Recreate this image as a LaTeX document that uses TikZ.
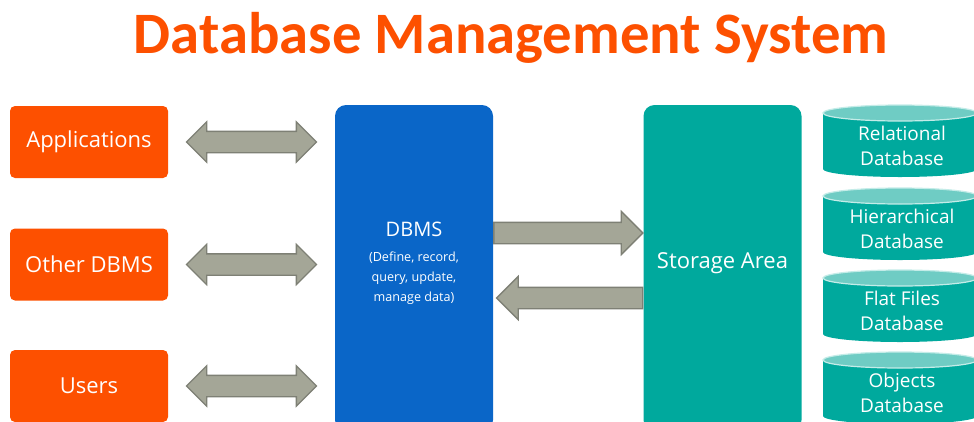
\documentclass[tikz,border=0pt]{standalone}
\usepackage{fontspec}
\setmainfont{Open Sans}
\newfontfamily\titlefont{Carlito}
\usetikzlibrary{shapes.arrows,calc}
\definecolor{orng}{HTML}{FD5000}
\definecolor{dbblue}{HTML}{0A66C8}
\definecolor{tealc}{HTML}{00A99D}
\definecolor{tealtop}{HTML}{6FCCC4}
\definecolor{tealrim}{HTML}{C4ECE8}
\definecolor{arrfill}{HTML}{A4A697}
\definecolor{arrline}{HTML}{7E8075}
\tikzset{
  srcbox/.style={fill=orng, rounded corners=5pt, minimum width=158pt, minimum height=72pt, inner sep=0pt, text=white, font=\fontsize{22}{26}\selectfont},
  tallbox/.style={rounded corners=11pt, minimum width=158pt, minimum height=326pt, inner sep=0pt},
  dblarr/.style={shape=double arrow, draw=arrline, fill=arrfill, line width=1.3pt, minimum height=130pt, inner xsep=0pt, inner ysep=10pt, double arrow head extend=9.5pt},
  sarr/.style={shape=single arrow, draw=arrline, fill=arrfill, line width=1.3pt, inner xsep=0pt, inner ysep=10pt, single arrow head extend=11pt},
  cyltext/.style={text=white, align=center, font=\fontsize{19}{25}\selectfont, inner sep=0pt},
}
\begin{document}
\begin{tikzpicture}[x=1pt,y=-1pt]
\clip (0,0) rectangle (974,421);
\fill[white] (0,0) rectangle (974,421);
\node[text=orng, font=\titlefont\fontsize{58.7}{70}\selectfont\bfseries, anchor=base, inner sep=0pt] (title) at (511,53) {Database Management System};
% source boxes
\node[srcbox] (app) at (89,142) {Applications};
\node[srcbox] (odb) at (89,264.5) {Other DBMS};
\node[srcbox] (usr) at (89,386) {Users};
% DBMS and storage
\node[tallbox, fill=dbblue] (dbms) at (414,268) {};
\node[text=white, align=center, inner sep=0pt, font=\fontsize{12.6}{20}\selectfont] (dbmstxt) at (414,263) {{\fontsize{20}{24}\selectfont DBMS}\\[5pt](Define, record,\\query, update,\\manage data)};
\node[tallbox, fill=tealc] (stor) at (722.5,268) {};
\node[text=white, inner sep=0pt, font=\fontsize{22}{26}\selectfont] (stortxt) at (722.5,263) {Storage Area};
% double arrows
\path (app.east) -- (dbms.west |- app.east) node[midway, dblarr] (a1) {};
\path (odb.east) -- (dbms.west |- odb.east) node[midway, dblarr] (a2) {};
\path (usr.east) -- (dbms.west |- usr.east) node[midway, dblarr] (a3) {};
% arrows between DBMS and storage
\coordinate (ry) at (0,233);
\coordinate (ly) at (0,298);
\node[sarr, minimum height=149pt, anchor=tail] (a4) at (dbms.east |- ry) {};
\node[sarr, minimum height=146pt, shape border rotate=180, anchor=tail] (a5) at (stor.west |- ly) {};
% cylinders
\foreach \i/\t/\la/\lb in {1/105/Relational/Database, 2/188/Hierarchical/Database, 3/270/Flat Files/Database, 4/352/Objects/Database}{
  \pgfmathsetmacro{\ya}{\t+8}
  \pgfmathsetmacro{\yb}{\t+64}
  \fill[tealc] (823,\ya) -- (823,\yb) arc[start angle=180, end angle=0, x radius=77, y radius=8] -- (977,\ya) -- cycle;
  \filldraw[fill=tealtop, draw=tealrim, line width=1.2pt] (900,\ya) ellipse[x radius=77, y radius=8];
  \node[cyltext] (cyl\i) at (902,\t+41) {\la\\\lb};
}
\end{tikzpicture}
\end{document}
